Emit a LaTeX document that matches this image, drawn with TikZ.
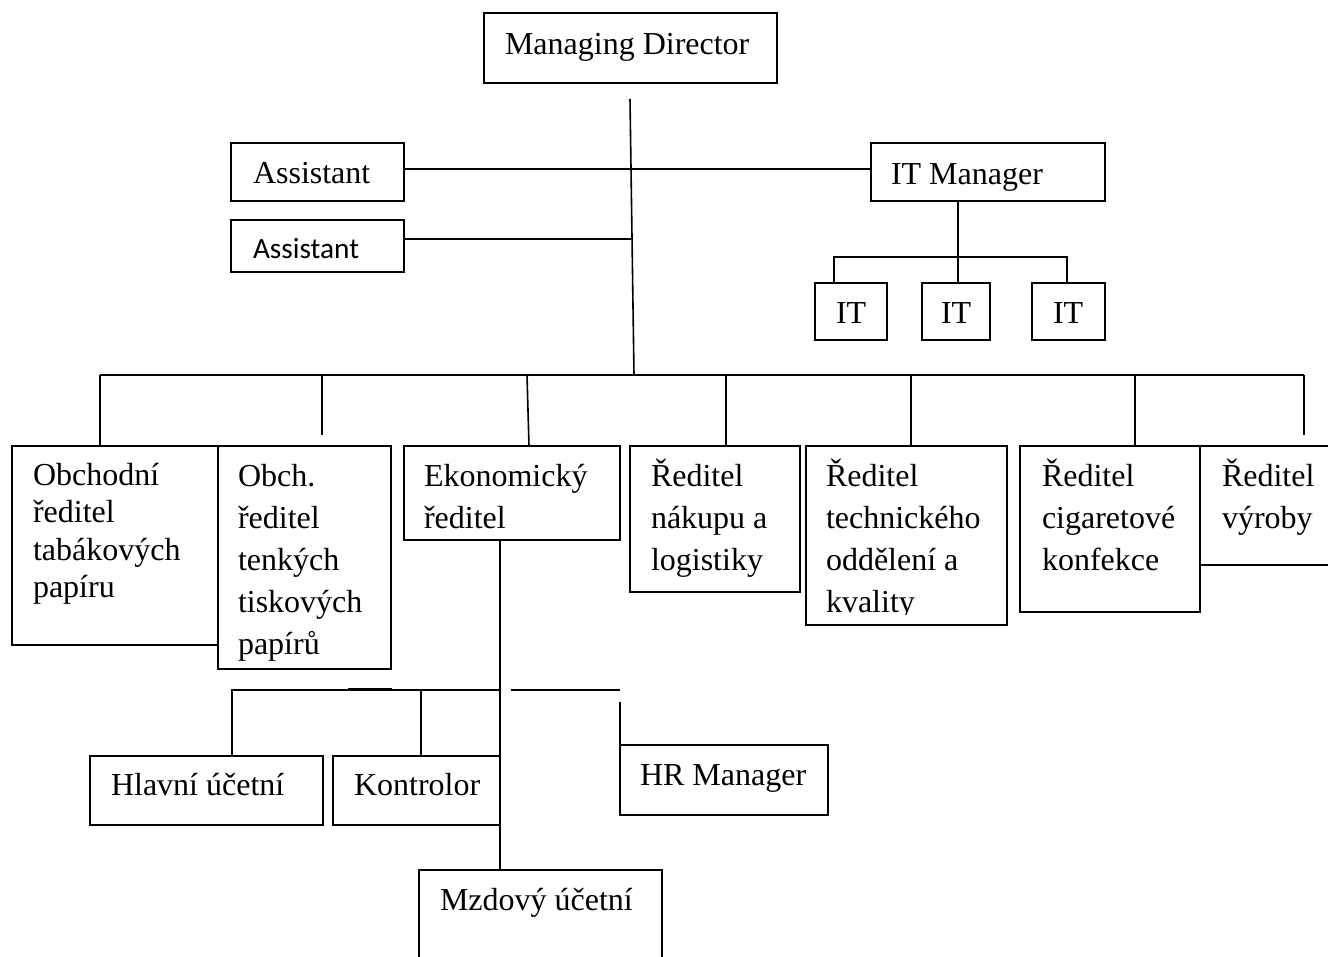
\documentclass[tikz,border=0pt]{standalone}
\usepackage{fontspec}
\setmainfont{Liberation Serif}
\newfontfamily\calibrifont{Carlito}
\newcommand\txtstack[2]{\vtop{\baselineskip=#1pt\relax #2}}
\tikzset{
  box/.style={draw, line width=1.6, fill=white, inner sep=0, outer sep=0, anchor=north west},
  txt/.style={inner sep=0, outer sep=0, anchor=base west, font=\fontsize{32}{37.5}\selectfont},
  stxt/.style={inner sep=0, outer sep=0, anchor=base west, font=\calibrifont\fontsize{29.3}{35}\selectfont},
  conn/.style={line width=1.6}
}
\begin{document}
\begin{tikzpicture}[x=1pt,y=-1pt]
\clip (0,0) rectangle (1328,956);
\fill[white] (0,0) rectangle (1328,956);
% boxes
\node[box, minimum width=293, minimum height=70] (md) at (484,13) {};
\node[box, minimum width=173, minimum height=58] (as1) at (231,143) {};
\node[box, minimum width=173, minimum height=52] (as2) at (231,220) {};
\node[box, minimum width=234, minimum height=58] (itm) at (871,143) {};
\node[box, minimum width=72, minimum height=57] (it1) at (815,283) {};
\node[box, minimum width=68, minimum height=57] (it2) at (922,283) {};
\node[box, minimum width=73, minimum height=57] (it3) at (1032,283) {};
\node[box, minimum width=206, minimum height=199] (obch) at (12,446) {};
\node[box, minimum width=173, minimum height=223] (obch2) at (218,446) {};
\node[box, minimum width=216, minimum height=94] (eko) at (404,446) {};
\node[box, minimum width=170, minimum height=146] (nak) at (630,446) {};
\node[box, minimum width=201, minimum height=179] (tech) at (806,446) {};
\node[box, minimum width=180, minimum height=166] (cig) at (1020,446) {};
\node[box, minimum width=160, minimum height=119] (vyr) at (1200,446) {};
\node[box, minimum width=233, minimum height=69] (hl) at (90,756) {};
\node[box, minimum width=167, minimum height=69] (ko) at (333,756) {};
\node[box, minimum width=208, minimum height=70] (hr) at (620,745) {};
\node[box, minimum width=243, minimum height=120] (mzd) at (419,870) {};
% texts
\node[txt] (mdt) at (505,54) {Managing Director};
\node[txt] (as1t) at (253,183) {Assistant};
\node[stxt] (as2t) at (253,258) {Assistant};
\node[txt] (itmt) at (891,184) {IT Manager};
\node[txt] (it1t) at (836,323) {IT};
\node[txt] (it2t) at (941,323) {IT};
\node[txt] (it3t) at (1053,323) {IT};
\node[txt] (obcht) at (33,485) {\txtstack{37.5}{\hbox{Obchodní}\hbox{ředitel}\hbox{tabákových}\hbox{papíru}}};
\node[txt] (obch2t) at (238,486) {\txtstack{42}{\hbox{Obch.}\hbox{ředitel}\hbox{tenkých}\hbox{tiskových}\hbox{papírů}}};
\node[txt] (ekot) at (424,486) {\txtstack{42}{\hbox{Ekonomický}\hbox{ředitel}}};
\node[txt] (nakt) at (651,486) {\txtstack{42}{\hbox{Ředitel}\hbox{nákupu a}\hbox{logistiky}}};
\begin{scope}
\clip (806,446) rectangle (1007,614);
\node[txt] (techt) at (826,486) {\txtstack{42}{\hbox{Ředitel}\hbox{technického}\hbox{oddělení a}\hbox{kvality}}};
\end{scope}
\node[txt] (cigt) at (1042,486) {\txtstack{42}{\hbox{Ředitel}\hbox{cigaretové}\hbox{konfekce}}};
\node[txt] (vyrt) at (1222,486) {\txtstack{42}{\hbox{Ředitel}\hbox{výroby}}};
\node[txt] (hlt) at (111,795) {Hlavní účetní};
\node[txt] (kot) at (354,795) {Kontrolor};
\node[txt] (hrt) at (640,785) {HR Manager};
\node[txt] (mzdt) at (440,910) {Mzdový účetní};
% connectors
\coordinate (mdtail) at (630,99);
\coordinate (bus) at (634,375);
\draw[conn] (mdtail) -- (bus);
\coordinate (a1l) at (404,169);
\coordinate (a1r) at (871,169);
\draw[conn] (a1l) -- (a1r);
\coordinate (a2l) at (404,239);
\coordinate (tr2) at (632,239);
\draw[conn] (a2l) -- (tr2);
\coordinate (itj) at (958,257);
\coordinate (itw) at (834,257);
\coordinate (ite) at (1067,257);
\draw[conn] (itj |- itm.south) -- (itj |- it2.north);
\draw[conn] (itw |- it1.north) -- (itw) -- (ite) -- (ite |- it3.north);
\coordinate (bw) at (100,375);
\coordinate (be) at (1304,375);
\draw[conn] (bw) -- (be);
\draw[conn] (bw) -- (bw |- obch.north);
\coordinate (d2) at (322,375);
\coordinate (d2e) at (322,435);
\draw[conn] (d2) -- (d2e);
\coordinate (d3) at (527,375);
\draw[conn] (d3) -- ([xshift=17pt]eko.north);
\coordinate (d4) at (726,375);
\draw[conn] (d4) -- (d4 |- nak.north);
\coordinate (d5) at (911,375);
\draw[conn] (d5) -- (d5 |- tech.north);
\coordinate (d6) at (1135,375);
\draw[conn] (d6) -- (d6 |- cig.north);
\coordinate (d7e) at (1304,435);
\draw[conn] (be) -- (d7e);
\coordinate (ev) at (500,690);
\draw[conn] (ev |- eko.south) -- (ev |- mzd.north);
\coordinate (h1) at (232,690);
\draw[conn] (ev) -- (h1) -- (h1 |- hl.north);
\coordinate (k1) at (421,690);
\draw[conn] (k1) -- (k1 |- ko.north);
\coordinate (tk1) at (348,689.5);
\coordinate (tk2) at (392,689.5);
\draw[line width=2.4] (tk1) -- (tk2);
\coordinate (hs1) at (511,690);
\coordinate (hs2) at (620,690);
\draw[conn] (hs1) -- (hs2);
\coordinate (hv) at (620,702);
\draw[conn] (hv) -- (hr.north west);
\end{tikzpicture}
\end{document}
